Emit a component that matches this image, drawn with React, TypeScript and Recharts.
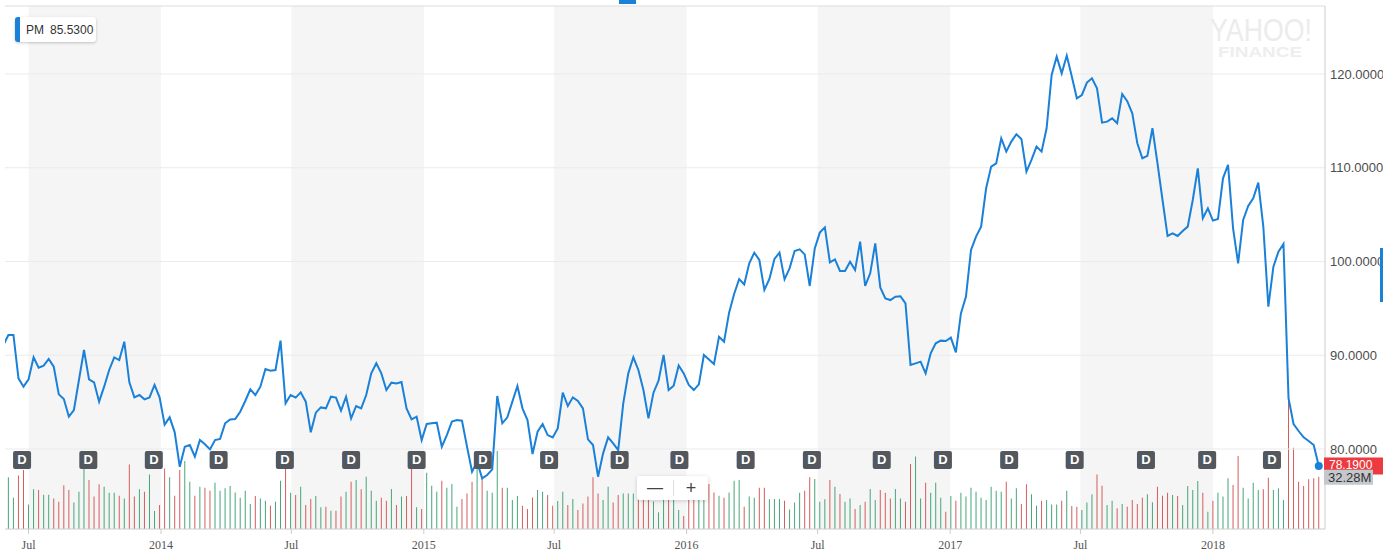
import React from 'react';
import {
  ComposedChart,
  Line,
  Bar,
  Cell,
  XAxis,
  YAxis,
  ReferenceArea,
  ReferenceLine,
  ReferenceDot,
} from 'recharts';

// weekly closes, PM, week starting Mon 2013-05-27
const PRICES = [
  91.1, 92.16, 92.16, 87.54, 86.65, 87.43, 89.78, 88.68, 88.89, 89.6,
  88.78, 85.83, 85.33, 83.45, 84.16, 87.36, 90.56, 87.43, 87.11, 85.05,
  86.65, 88.43, 89.78, 89.49, 91.45, 87.11, 85.51, 85.76, 85.3, 85.51,
  86.83, 85.51, 82.6, 83.38, 81.78, 78.1, 80.25, 80.43, 79.18, 80.96,
  80.5, 79.96, 80.96, 81.07, 82.74, 83.16, 83.2, 83.98, 85.12, 86.36,
  85.76, 86.65, 88.53, 88.36, 88.43, 91.56, 84.87, 85.76, 85.48, 86.04,
  85.05, 81.78, 83.88, 84.44, 84.34, 85.58, 85.48, 84.09, 85.58, 83.27,
  84.59, 84.34, 85.76, 88.07, 89.14, 88.07, 86.29, 87.08, 87.0, 87.15,
  84.34, 83.16, 83.45, 80.96, 82.67, 82.74, 82.81, 80.25, 81.49, 82.92,
  83.09, 83.02, 80.25, 77.58, 78.65, 76.87, 77.23, 77.83, 85.65, 82.74,
  83.38, 85.05, 86.72, 84.34, 83.09, 79.47, 81.85, 82.67, 81.49, 81.24,
  82.2, 86.01, 84.59, 85.51, 85.12, 84.34, 81.03, 80.43, 77.05, 79.54,
  81.24, 80.6, 79.89, 84.87, 88.07, 89.78, 88.43, 86.29, 83.27, 86.01,
  87.29, 90.03, 86.29, 86.76, 88.9, 88.07, 86.83, 86.29, 86.9, 90.03,
  89.56, 89.07, 91.98, 91.45, 94.54, 96.53, 98.13, 97.56, 99.8, 100.94,
  100.16, 96.96, 98.13, 100.27, 100.94, 98.1, 99.27, 101.12, 101.3, 100.76,
  97.39, 101.4, 103.08, 103.64, 99.91, 100.23, 98.99, 98.99, 99.98, 99.09,
  102.12, 97.39, 98.74, 101.94, 97.24, 96.07, 95.89, 96.25, 96.3, 95.54,
  88.96, 89.14, 89.32, 88.07, 90.21, 91.27, 91.56, 91.52, 91.88, 90.31,
  94.47, 96.25, 101.23, 102.65, 103.72, 107.81, 110.12, 110.47, 113.14, 111.72,
  112.79, 113.57, 113.07, 109.59, 110.83, 112.25, 111.72, 114.21, 119.9, 121.85,
  120.07, 121.96, 119.72, 117.41, 117.76, 119.08, 119.54, 118.47, 114.81, 114.92,
  115.27, 114.74, 117.87, 117.1, 115.81, 112.61, 111.01, 111.26, 114.21, 110.47,
  106.56, 102.72, 103.01, 102.72, 103.26, 103.72, 106.56, 109.94, 104.61, 105.67,
  104.36, 104.54, 108.87, 110.3, 103.54, 99.81, 104.43, 105.92, 106.74, 108.41,
  103.72, 95.19, 99.45, 101.05, 101.87, 85.41, 82.67, 81.92, 81.25, 80.86,
  80.43, 78.19,
];

// weekly volume, millions
const VOLUMES = [
  25, 31.9, 19.3, 33.1, 36.4, 15.2, 24.5, 24.1, 21.2, 21.2,
  18.9, 16.9, 27, 24.1, 16.3, 23, 44, 30.2, 20, 27.6,
  26.1, 22.4, 22.4, 20.6, 18.9, 39.9, 20, 24.5, 23, 33.7,
  11.1, 14.8, 37.4, 31.9, 20.6, 36.4, 42, 29.2, 20.6, 26.1,
  25.5, 23.7, 28.6, 23.7, 25.1, 26.5, 22.6, 19.3, 23.7, 15.4,
  20.4, 18.9, 17.5, 14.4, 16.9, 29.8, 38.5, 22.4, 21, 26.1,
  14.8, 18.5, 20.4, 13.4, 13.8, 11.3, 11.3, 20, 23, 29.2,
  30.2, 24.5, 32.3, 23.7, 17.5, 19.3, 17.5, 24.7, 14.8, 20,
  20.4, 37, 13.4, 12.3, 34.8, 26.7, 23, 29.8, 25.5, 27.8,
  13.8, 18.5, 22, 29.2, 38.5, 31.3, 23.7, 22.4, 48.1, 25.5,
  25.5, 17.9, 20.4, 14.4, 12.3, 19.5, 24.1, 23, 21, 14.4,
  17.3, 23, 14.8, 18.5, 11.7, 15.8, 20, 31.9, 22, 17.9,
  26.1, 16.3, 21, 22, 22, 22, 20, 20, 18, 17,
  10.3, 17.9, 17.9, 22, 11.7, 8.0, 22, 22, 24, 22,
  27.8, 22.6, 20.6, 19.3, 22.6, 29.8, 30.2, 13.8, 20, 19.3,
  25.5, 25.5, 18.3, 18.5, 18.5, 17.5, 12.1, 16.3, 22.4, 23.7,
  31.9, 30.9, 16.9, 18.3, 30.2, 26.1, 21.6, 16.9, 18.9, 12.3,
  14.8, 16.9, 24.7, 17.9, 24.1, 22.4, 18.9, 24.7, 18.9, 16.9,
  40.1, 44.7, 18.9, 28.6, 22.4, 28.6, 19.3, 10.7, 20.4, 17.5,
  22.4, 20, 25.5, 23, 19.3, 17.9, 26.1, 23.7, 23, 29.2,
  18.9, 25.1, 15.4, 27.6, 21.4, 14.4, 17.5, 17.9, 15.2, 15.2,
  17.5, 23.7, 14.2, 13.8, 11.7, 16.3, 21.4, 33.7, 26.7, 14.8,
  17.5, 12.8, 15.4, 13.8, 17.9, 15.4, 19.3, 21.4, 16.5, 26.1,
  20.6, 22.4, 21, 20.4, 14.8, 26.5, 24.1, 29.6, 22.4, 10.7,
  17.5, 22.4, 20, 31.3, 27.2, 45.1, 25.5, 18.9, 28.6, 24.1,
  24.5, 31.7, 24.1, 25.1, 17.9, 80.2, 50.2, 29.2, 26.5, 30.7,
  31.3, 32.28,
];

const DIVIDENDS = [
  '2013-06-22', '2013-09-22', '2013-12-22', '2014-03-22', '2014-06-22',
  '2014-09-22', '2014-12-22', '2015-03-24', '2015-06-24', '2015-09-30',
  '2015-12-22', '2016-03-23', '2016-06-23', '2016-09-28', '2016-12-22',
  '2017-03-24', '2017-06-23', '2017-09-30', '2017-12-24', '2018-03-24',
];

const TICKS = [
  '2013-07-01', '2014-01-01', '2014-07-01', '2015-01-01', '2015-07-01',
  '2016-01-01', '2016-07-01', '2017-01-01', '2017-07-01', '2018-01-01',
];

const SHADED = [
  ['2013-07-01', '2014-01-01'],
  ['2014-07-01', '2015-01-01'],
  ['2015-07-01', '2016-01-01'],
  ['2016-07-01', '2017-01-01'],
  ['2017-07-01', '2018-01-01'],
];

const PRICE_TICKS = [80, 90, 100, 110, 120];

const DAY = 86400000;
const FIRST_WEEK = Date.UTC(2013, 4, 27);
const X_MIN = Date.UTC(2013, 4, 29, 7);
const X_MAX = Date.UTC(2018, 5, 5, 16);
const Y_MIN = 71.47;
const Y_MAX = 127.25;
const VOL_MAX = 323;
const DIV_LEVEL = 78.83;

const BLUE = '#1a80d8';
const UP = '#45a679';
const DOWN = '#d65c5c';
const SANS = '"Liberation Sans", Arial, Helvetica, sans-serif';

const day = (s: string) => Date.parse(s + 'T00:00:00Z');

const data = PRICES.map((price, i) => ({
  t: FIRST_WEEK + i * 7 * DAY,
  price,
  volume: VOLUMES[i],
  up: i === 0 || price >= PRICES[i - 1],
}));

const last = data[data.length - 1];

const fmtTick = (v: number) => {
  const d = new Date(v);
  return d.getUTCMonth() === 6 ? 'Jul' : String(d.getUTCFullYear());
};

const DivMark = ({ cx, cy }: any) => (
  <g>
    <rect x={cx - 9} y={cy - 9} width={18} height={18} rx={2} fill="#53575e" />
    <text x={cx} y={cy + 4.5} textAnchor="middle" fill="#fff" fontSize={13} fontWeight="bold" fontFamily={SANS}>
      D
    </text>
  </g>
);

// price tag sits under the volume tag, like the reference
const PriceTag = ({ cx, cy }: any) => (
  <g>
    <rect x={cx - 1} y={cy - 8.5} width={60} height={17} fill="#ec3a40" />
    <text x={cx + 4} y={cy + 3} fill="#fff" fontSize={12} fontFamily={SANS}>
      {last.price.toFixed(4)}
    </text>
  </g>
);

const VolTag = ({ cx, cy }: any) => (
  <g>
    <rect x={cx - 1} y={cy - 7} width={49} height={15} fill="#c4c7cb" />
    <text x={cx + 3} y={cy + 5} fill="#333" fontSize={13} fontFamily={SANS}>
      {last.volume.toFixed(2)}M
    </text>
  </g>
);

export default function App() {
  return (
    <div style={{ position: 'absolute', left: 0, top: 0, width: 1383, height: 554, overflow: 'hidden', background: '#fff' }}>
      <ComposedChart width={1383} height={554} data={data} margin={{ top: 6, right: 0, bottom: 0, left: 5 }}>
        {SHADED.map(([a, b]) => (
          <ReferenceArea key={a} x1={day(a)} x2={day(b)} yAxisId="price" fill="#f5f5f5" fillOpacity={1} stroke="none" />
        ))}
        {PRICE_TICKS.map((v) => (
          <ReferenceLine key={v} y={v} yAxisId="price" stroke="#ebebeb" />
        ))}
        <ReferenceLine y={Y_MAX} yAxisId="price" stroke="#dddddd" />
        <XAxis
          dataKey="t"
          type="number"
          domain={[X_MIN, X_MAX]}
          allowDataOverflow
          ticks={TICKS.map(day)}
          tickFormatter={fmtTick}
          height={25}
          tickSize={5}
          tickMargin={6}
          stroke="#cccccc"
          tick={{ fill: '#555', fontSize: 12, fontFamily: '"Liberation Serif", "Times New Roman", serif' }}
        />
        <YAxis
          yAxisId="price"
          orientation="right"
          domain={[Y_MIN, Y_MAX]}
          allowDataOverflow
          ticks={PRICE_TICKS}
          tickFormatter={(v: number) => v.toFixed(4)}
          width={58}
          tickLine={false}
          tickSize={5}
          tickMargin={0}
          stroke="#cccccc"
          tick={{ fill: '#4d4d4d', fontSize: 13, fontFamily: SANS }}
        />
        <YAxis yAxisId="vol" hide domain={[0, VOL_MAX]} allowDataOverflow />
        <Bar dataKey="volume" yAxisId="vol" barSize={1} isAnimationActive={false}>
          {data.map((d) => (
            <Cell key={d.t} fill={d.up ? UP : DOWN} />
          ))}
        </Bar>
        <Line
          dataKey="price"
          yAxisId="price"
          type="linear"
          stroke={BLUE}
          strokeWidth={2}
          dot={false}
          activeDot={false}
          isAnimationActive={false}
        />
        {DIVIDENDS.map((d) => (
          <ReferenceDot key={d} x={day(d)} y={DIV_LEVEL} yAxisId="price" shape={DivMark} />
        ))}
        <ReferenceDot x={last.t} y={last.price} yAxisId="price" r={4} fill={BLUE} stroke="none" />
        <ReferenceDot x={X_MAX} y={last.price} yAxisId="price" shape={PriceTag} ifOverflow="visible" />
        <ReferenceDot x={X_MAX} y={last.volume} yAxisId="vol" shape={VolTag} ifOverflow="visible" />
      </ComposedChart>

      {/* legend chip */}
      <div
        style={{
          position: 'absolute', left: 15, top: 17, width: 81, height: 25, background: '#fff',
          borderLeft: `5px solid ${BLUE}`, borderRadius: 3, boxShadow: '0 1px 3px rgba(0,0,0,0.22)',
          boxSizing: 'border-box', display: 'flex', alignItems: 'center', paddingLeft: 6,
          fontFamily: SANS, fontSize: 12, color: '#333',
        }}
      >
        <span style={{ marginRight: 6 }}>PM</span>
        <span>85.5300</span>
      </div>

      {/* watermark */}
      <svg style={{ position: 'absolute', left: 0, top: 0, pointerEvents: 'none' }} width={1383} height={70}>
        <text x={1210} y={41} fontSize={31} fontFamily={SANS} fill="#ececec" textLength={102} lengthAdjust="spacingAndGlyphs">
          YAHOO!
        </text>
        <text x={1218} y={57} fontSize={15} fontWeight="bold" fontFamily={SANS} fill="#eeeeee" textLength={84} lengthAdjust="spacingAndGlyphs">
          FINANCE
        </text>
      </svg>

      {/* zoom control */}
      <div
        style={{
          position: 'absolute', left: 637, top: 476, width: 71, height: 24, background: '#fff',
          borderRadius: 2, boxShadow: '0 1px 4px rgba(0,0,0,0.18)', display: 'flex', alignItems: 'center',
          fontFamily: SANS, color: '#444',
        }}
      >
        <div style={{ width: 36, textAlign: 'center', fontSize: 16 }}>—</div>
        <div style={{ width: 1, height: 16, background: '#ddd' }} />
        <div style={{ width: 34, textAlign: 'center', fontSize: 18 }}>+</div>
      </div>

      <div style={{ position: 'absolute', left: 619, top: 0, width: 17, height: 4, background: BLUE }} />
      <div style={{ position: 'absolute', left: 1380, top: 248, width: 3, height: 54, background: BLUE }} />
    </div>
  );
}
